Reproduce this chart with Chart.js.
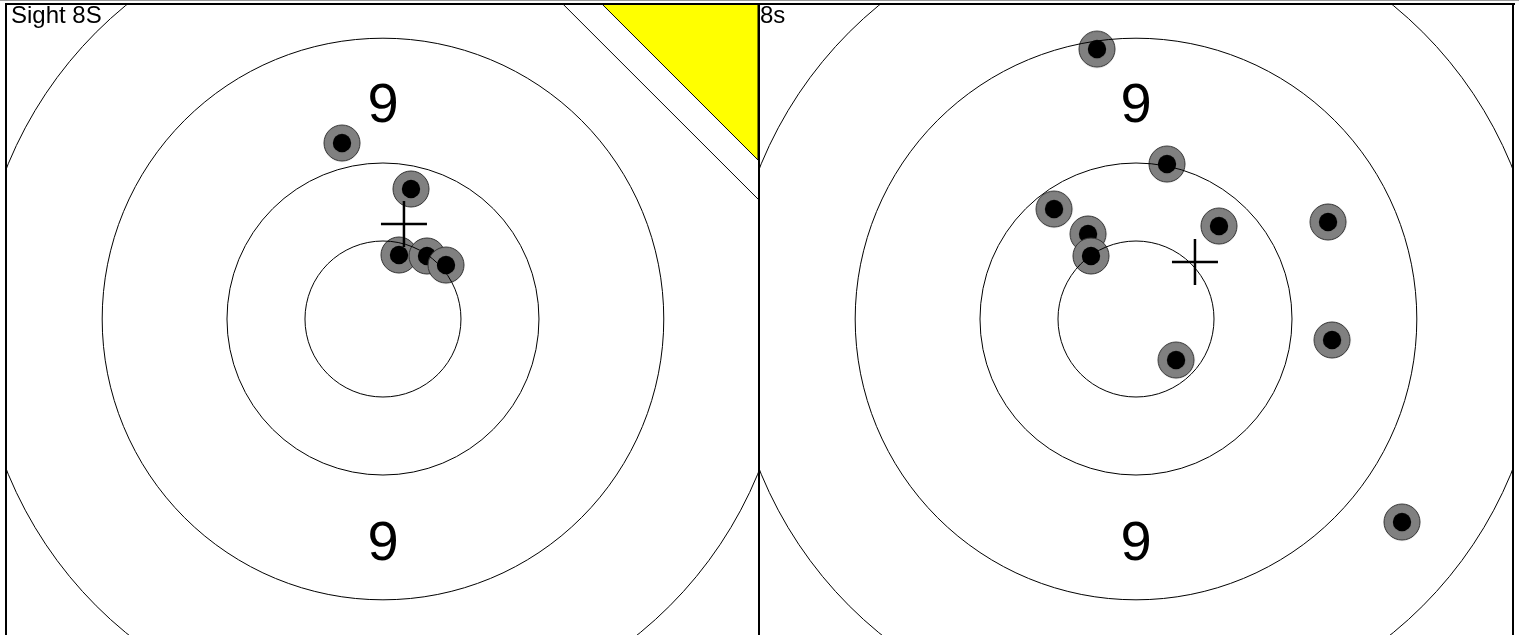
<!DOCTYPE html>
<html>
<head>
<meta charset="utf-8">
<script src="https://cdn.jsdelivr.net/npm/chart.js@4.4.0/dist/chart.umd.min.js"></script>
<style>
body { margin:0; background:#fff; width:1519px; height:635px; overflow:hidden; position:relative; }
.panel { position:absolute; top:4px; height:631px; }
.line { position:absolute; background:#000; }
</style>
</head>
<body>
<div class="panel" style="left:6px;width:752px;"><canvas id="left-target"></canvas></div>
<div class="panel" style="left:759px;width:754px;"><canvas id="right-target"></canvas></div>
<div class="line" style="left:0;top:0;width:1519px;height:1px;background:#999;"></div>
<div class="line" style="left:5px;top:3px;width:1510px;height:1.5px;"></div>
<div class="line" style="left:5px;top:3px;width:2px;height:632px;"></div>
<div class="line" style="left:758px;top:3px;width:2px;height:632px;"></div>
<div class="line" style="left:1512px;top:3px;width:2px;height:632px;"></div>
<script>
// target rings (radius, in ring units) and the "9" labels
const ringRadii = [10, 20, 36, 52];
const ringLabelText = ['9', '9'];
const ringLabelY = [27.8, -28.3];

// left target: sighting shots
const leftTitle = 'Sight 8S';
const leftShotsX = [-5.26, 3.59, 2.05, 5.64, 8.08];
const leftShotsY = [22.56, 16.67, 8.21, 8.08, 6.92];
const leftCross = [2.69, 12.18];

// right target: 8s series
const rightTitle = '8s';
const rightShotsX = [-5.0, 3.97, -10.51, -6.15, -5.77, 10.64, 24.62, 5.13, 25.13, 34.10];
const rightShotsY = [34.6, 19.87, 14.10, 10.90, 8.08, 11.92, 12.44, -5.26, -2.69, -26.03];
const rightCross = [7.56, 7.31];

// sighting corner mark on the left target (white corner cut + yellow wedge)
const sightCornerX = [22.95, 48.2, 48.2];
const sightCornerY = [40.5, 40.5, 15.26];
const sightWedgeX = [28.08, 48.08, 48.08];
const sightWedgeY = [40.38, 40.38, 20.38];

// shot marker image: grey ring with black centre
function makeShotMarker() {
    const c = document.createElement('canvas');
    c.width = 40; c.height = 40;
    const g = c.getContext('2d');
    g.beginPath();
    g.arc(20, 20, 18, 0, Math.PI * 2);
    g.fillStyle = '#808080';
    g.fill();
    g.lineWidth = 1;
    g.strokeStyle = '#333';
    g.stroke();
    g.beginPath();
    g.arc(20, 20, 9.2, 0, Math.PI * 2);
    g.fillStyle = '#000';
    g.fill();
    return c;
}
const shotMarker = makeShotMarker();

function polygon(ctx, x, y, xs, ys) {
    ctx.beginPath();
    xs.forEach((v, i) => {
        const px = x.getPixelForValue(v), py = y.getPixelForValue(ys[i]);
        if (i === 0) ctx.moveTo(px, py); else ctx.lineTo(px, py);
    });
    ctx.closePath();
}

const targetPlugin = {
    id: 'target',
    beforeDatasetsDraw(chart) {
        const { ctx, chartArea: a, scales: { x, y } } = chart;
        ctx.save();
        ctx.beginPath();
        ctx.rect(a.left, a.top, a.width, a.height);
        ctx.clip();
        // ring numbers
        ctx.fillStyle = '#000';
        ctx.font = '56px "Liberation Sans", Arial, sans-serif';
        ctx.textAlign = 'center';
        ctx.textBaseline = 'alphabetic';
        ringLabelY.forEach((v, i) => {
            ctx.fillText(ringLabelText[i], x.getPixelForValue(0), y.getPixelForValue(v) + 20);
        });
        ctx.restore();
    },
    afterDatasetsDraw(chart, args, opts) {
        const { ctx, chartArea: a, scales: { x, y } } = chart;
        ctx.save();
        ctx.beginPath();
        ctx.rect(a.left, a.top, a.width, a.height);
        ctx.clip();
        const cx = x.getPixelForValue(0), cy = y.getPixelForValue(0);
        ctx.strokeStyle = '#000';
        ctx.lineWidth = 1;
        ringRadii.forEach(r => {
            const rx = x.getPixelForValue(r) - cx;
            const ry = cy - y.getPixelForValue(r);
            ctx.beginPath();
            ctx.ellipse(cx, cy, rx, ry, 0, 0, Math.PI * 2);
            ctx.stroke();
        });
        if (opts.sight) {
            polygon(ctx, x, y, sightCornerX, sightCornerY);
            ctx.fillStyle = '#fff';
            ctx.fill();
            ctx.stroke();
            polygon(ctx, x, y, sightWedgeX, sightWedgeY);
            ctx.fillStyle = '#ffff00';
            ctx.fill();
            ctx.stroke();
        }
        // panel caption
        ctx.fillStyle = '#000';
        ctx.font = '24px "Liberation Sans", Arial, sans-serif';
        ctx.textAlign = 'left';
        ctx.textBaseline = 'alphabetic';
        ctx.fillText(opts.title, a.left + opts.titleX, a.top + 19);
        ctx.restore();
    }
};

function renderTarget(canvasId, title, titleX, shotsX, shotsY, cross, xMin, xMax, sight) {
    const shots = shotsX.map((v, i) => ({ x: v, y: shotsY[i] }));
    return new Chart(document.getElementById(canvasId), {
        type: 'scatter',
        data: {
            datasets: [{
                data: [{ x: cross[0], y: cross[1] }],
                pointStyle: 'cross',
                pointRadius: 23,
                borderWidth: 2.5,
                borderColor: '#000',
                order: 0
            }, {
                data: shots,
                pointStyle: shotMarker,
                pointRadius: 18,
                order: 1
            }]
        },
        options: {
            animation: false,
            responsive: true,
            maintainAspectRatio: false,
            layout: { padding: 0, autoPadding: false },
            events: [],
            plugins: {
                legend: { display: false },
                tooltip: { enabled: false },
                target: { title, titleX, sight }
            },
            scales: {
                x: { type: 'linear', min: xMin, max: xMax, display: false },
                y: { type: 'linear', min: -40.51, max: 40.385, display: false }
            }
        },
        plugins: [targetPlugin]
    });
}

renderTarget('left-target', leftTitle, 5, leftShotsX, leftShotsY, leftCross, -48.33, 48.08, true);
renderTarget('right-target', rightTitle, 1, rightShotsX, rightShotsY, rightCross, -48.33, 48.33, false);
</script>
</body>
</html>
